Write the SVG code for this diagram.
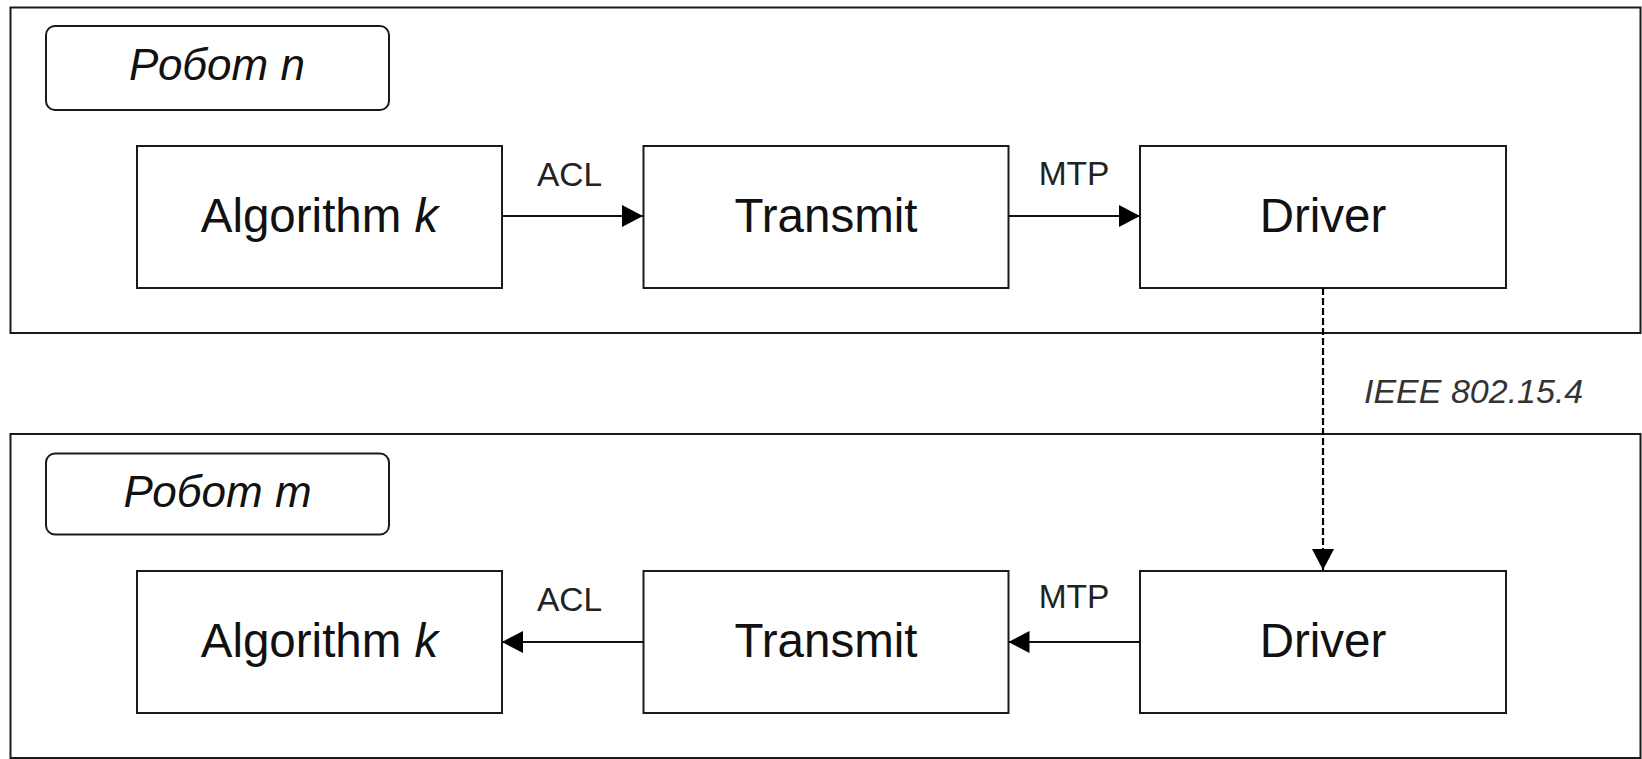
<svg xmlns="http://www.w3.org/2000/svg" width="1642" height="759" viewBox="0 0 1642 759">
<style>
.frame{fill:#fff;stroke:#1a1a1a;stroke-width:2}
.box{fill:#fff;stroke:#1a1a1a;stroke-width:2}
.big{font-family:"Liberation Sans",Arial,sans-serif;font-size:47.5px;fill:#111;text-anchor:middle}
.title{font-family:"Liberation Sans",Arial,sans-serif;font-size:44px;font-style:italic;fill:#111;text-anchor:middle}
.lbl{font-family:"Liberation Sans",Arial,sans-serif;font-size:33.5px;fill:#222;text-anchor:middle}
.conn{stroke:#111;stroke-width:2;fill:none}
</style>
<defs>
<marker id="ah" markerWidth="21" markerHeight="22" refX="21" refY="11" orient="auto" markerUnits="userSpaceOnUse">
<path d="M0,0 L21,11 L0,22 Z" fill="#000"/>
</marker>
</defs>
<rect width="1642" height="759" fill="#fff"/>
<g id="robot-n-frame">
<rect class="frame" x="10.5" y="7.5" width="1630" height="325.5"/>
</g>
<g id="robot-m-frame">
<rect class="frame" x="10.5" y="434" width="1630" height="324"/>
</g>
<g id="robot-n-label">
<rect class="box" x="46" y="26" width="343" height="84" rx="9"/>
<text class="title" x="217" y="80">Робот <tspan>n</tspan></text>
</g>
<g id="robot-m-label">
<rect class="box" x="46" y="453.5" width="343" height="81" rx="9"/>
<text class="title" x="217.5" y="507">Робот <tspan>m</tspan></text>
</g>
<g id="alg-n">
<rect class="box" x="137" y="146" width="365" height="142"/>
<text class="big" x="319.5" y="232">Algorithm <tspan font-style="italic">k</tspan></text>
</g>
<g id="transmit-n">
<rect class="box" x="643.5" y="146" width="365" height="142"/>
<text class="big" x="826" y="232">Transmit</text>
</g>
<g id="driver-n">
<rect class="box" x="1140" y="146" width="366" height="142"/>
<text class="big" x="1323" y="232">Driver</text>
</g>
<g id="alg-m">
<rect class="box" x="137" y="571" width="365" height="142"/>
<text class="big" x="319.5" y="657">Algorithm <tspan font-style="italic">k</tspan></text>
</g>
<g id="transmit-m">
<rect class="box" x="643.5" y="571" width="365" height="142"/>
<text class="big" x="826" y="657">Transmit</text>
</g>
<g id="driver-m">
<rect class="box" x="1140" y="571" width="366" height="142"/>
<text class="big" x="1323" y="657">Driver</text>
</g>
<g id="connectors">
<line class="conn" x1="502" y1="216" x2="643" y2="216" marker-end="url(#ah)"/>
<line class="conn" x1="1008.5" y1="216" x2="1140" y2="216" marker-end="url(#ah)"/>
<line class="conn" x1="643.5" y1="642" x2="502" y2="642" marker-end="url(#ah)"/>
<line class="conn" x1="1140" y1="642" x2="1008.5" y2="642" marker-end="url(#ah)"/>
<line x1="1323" y1="288" x2="1323" y2="570" stroke="#000" stroke-width="2.2" fill="none" stroke-dasharray="7,3" marker-end="url(#ah)"/>
<text class="lbl" x="569.5" y="186">ACL</text>
<text class="lbl" x="1074" y="185">MTP</text>
<text class="lbl" x="569.5" y="611">ACL</text>
<text class="lbl" x="1074" y="608">MTP</text>
<text class="lbl" x="1364" y="402.5" style="text-anchor:start;font-style:italic;font-size:34px;fill:#333">IEEE 802.15.4</text>
</g>
</svg>
